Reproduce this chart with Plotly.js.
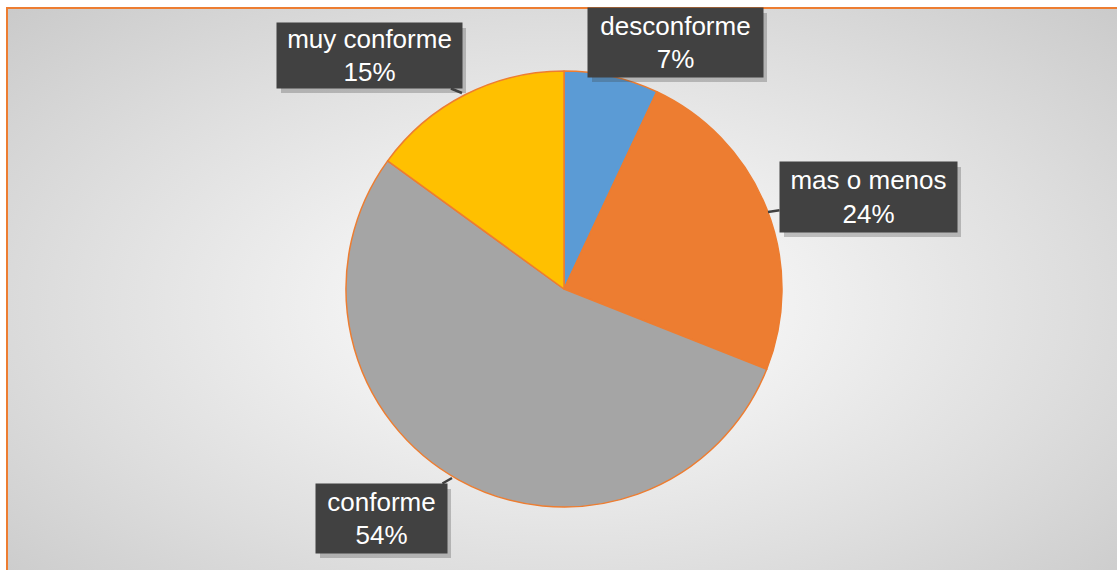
<!DOCTYPE html>
<html>
<head>
<meta charset="utf-8">
<script src="https://cdn.plot.ly/plotly-3.0.1.min.js"></script>
<style>
  html, body { margin:0; padding:0; background:#ffffff; width:1117px; height:570px; overflow:hidden; }
  #frame { position:absolute; left:6px; top:7px; width:1120px; height:570px;
    border-left:2px solid #ED7D31; border-top:2px solid #ED7D31;
    background: radial-gradient(ellipse 75% 80% at 50% 52%, #ffffff 0%, #f2f2f2 25%, #dedede 60%, #c6c6c6 100%); }
  #chart { position:absolute; left:0; top:0; width:1117px; height:570px; }
</style>
</head>
<body>
<div id="frame"></div>
<div id="chart"></div>
<script>
const labels = ["desconforme", "mas o menos", "conforme", "muy conforme"];
const values = [7, 24, 54, 15];
const colors = ["#5B9BD5", "#ED7D31", "#A5A5A5", "#FFC000"];

const W = 1117, H = 570;
const total = values.reduce((a, b) => a + b, 0);
const pct = values.map(v => Math.round(v / total * 100) + "%");

// label box layout (pixels): center, size, optional arrow tip
const boxes = [
  {cx: 675.5, cy: 42.5, w: 175, h: 69, tip: null},
  {cx: 868.5, cy: 197, w: 177, h: 70, tip: [768, 212]},
  {cx: 381.5, cy: 518.5, w: 131, h: 69, tip: [452, 478]},
  {cx: 369.5, cy: 55.5, w: 185, h: 65, tip: [462, 93]}
];

const px = x => x / W, py = y => 1 - y / H;
const font = {family: "Liberation Sans, Arial, sans-serif", size: 26, color: "#ffffff"};

// box shadows as shapes
const shapes = boxes.map(b => ({
  type: "rect", xref: "paper", yref: "paper", layer: "above",
  x0: px(b.cx - b.w / 2 + 4), x1: px(b.cx + b.w / 2 + 4),
  y0: py(b.cy + b.h / 2 + 5), y1: py(b.cy - b.h / 2 + 5),
  fillcolor: "rgba(60,60,60,0.28)", line: {width: 0}
}));

const annotations = [];
boxes.forEach((b, i) => {
  const base = {
    xref: "paper", yref: "paper",
    text: labels[i] + "<br>" + pct[i],
    width: b.w - 2, height: b.h - 2, borderpad: 1,
    bgcolor: "#414141", font: font, align: "center"
  };
  if (b.tip) {
    annotations.push(Object.assign(base, {
      x: px(b.tip[0]), y: py(b.tip[1]),
      ax: b.cx - b.tip[0], ay: b.cy - b.tip[1],
      showarrow: true, arrowhead: 0, arrowwidth: 2.5, arrowcolor: "#404040", standoff: 0
    }));
  } else {
    annotations.push(Object.assign(base, {
      x: px(b.cx), y: py(b.cy), xanchor: "center", yanchor: "middle", showarrow: false
    }));
  }
});

const cx = 564, cy = 289, r = 218;
const trace = {
  type: "pie",
  labels: labels,
  values: values,
  sort: false,
  direction: "clockwise",
  rotation: 0,
  textinfo: "none",
  hoverinfo: "none",
  marker: {colors: colors, line: {color: "#ED7D31", width: 1.5}},
  domain: {x: [(cx - r) / W, (cx + r) / W], y: [1 - (cy + r) / H, 1 - (cy - r) / H]}
};

const layout = {
  width: W, height: H,
  margin: {l: 0, r: 0, t: 0, b: 0},
  paper_bgcolor: "rgba(0,0,0,0)",
  plot_bgcolor: "rgba(0,0,0,0)",
  showlegend: false,
  shapes: shapes,
  annotations: annotations
};

Plotly.newPlot("chart", [trace], layout, {displayModeBar: false, staticPlot: true});
</script>
</body>
</html>
